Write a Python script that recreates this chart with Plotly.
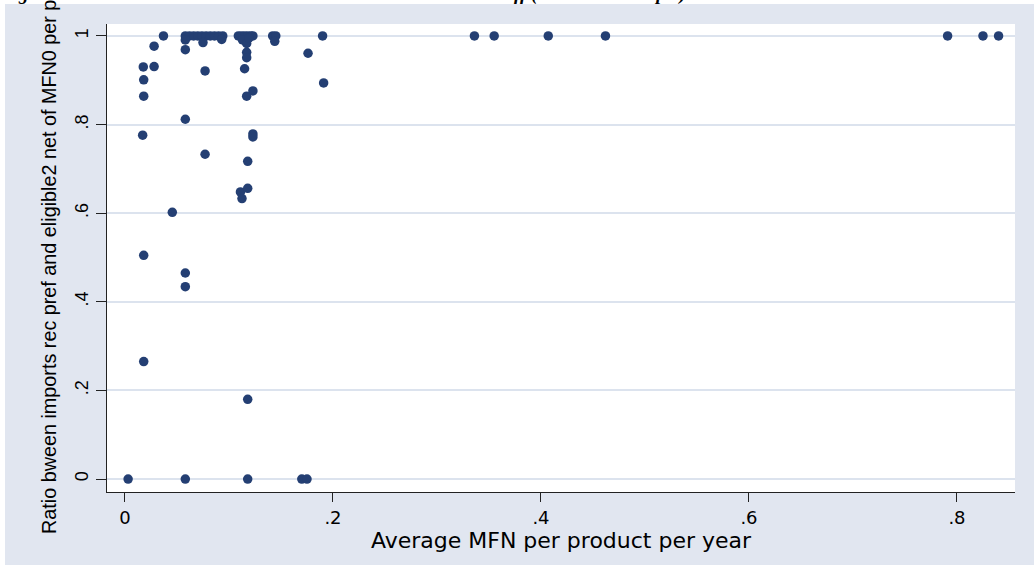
import plotly.graph_objects as go

# Average MFN per product per year (x) and ratio (y)
top_x = [0.037, 0.058, 0.062, 0.066, 0.070, 0.074, 0.078, 0.082, 0.086, 0.090, 0.094,
         0.109, 0.112, 0.115, 0.118, 0.121, 0.123, 0.142, 0.145, 0.190,
         0.336, 0.355, 0.407, 0.462, 0.791, 0.825, 0.840]
top_y = [1.0] * len(top_x)

near_top_x = [0.058, 0.075, 0.093, 0.113, 0.117, 0.119, 0.144]
near_top_y = [0.991, 0.985, 0.992, 0.991, 0.983, 0.995, 0.988]

other_x = [0.028, 0.0176, 0.028, 0.018, 0.018, 0.017, 0.018, 0.018, 0.0455,
           0.058, 0.058, 0.058, 0.058, 0.077, 0.077, 0.115, 0.117, 0.117,
           0.123, 0.117, 0.123, 0.123, 0.118, 0.111, 0.118, 0.1125, 0.118,
           0.176, 0.191]
other_y = [0.977, 0.930, 0.931, 0.901, 0.864, 0.776, 0.505, 0.265, 0.602,
           0.969, 0.812, 0.465, 0.434, 0.921, 0.733, 0.926, 0.963, 0.951,
           0.876, 0.864, 0.779, 0.772, 0.717, 0.648, 0.656, 0.633, 0.180,
           0.961, 0.894]

zero_x = [0.003, 0.058, 0.118, 0.170, 0.175]
zero_y = [0.0, 0.0, 0.0, 0.0, 0.0]

mfn = top_x + near_top_x + other_x + zero_x
ratio = top_y + near_top_y + other_y + zero_y

x_ticks = [0, 0.2, 0.4, 0.6, 0.8]
x_ticktext = ["0", ".2", ".4", ".6", ".8"]
y_ticks = [0, 0.2, 0.4, 0.6, 0.8, 1.0]
y_ticktext = ["0", ".2", ".4", ".6", ".8", "1"]

x_title = "Average MFN per product per year"
y_title = "Ratio bween imports rec pref and eligible2 net of MFN0 per p"
fig_title = "Figure 5: Relation between the utilization rates and the MFN tariff (all lines in sample)"

MARKER = "#243F73"
BG = "#E1E6F0"
GRID = "#DCE3EE"
AXIS = "#222222"
SANS = "Liberation Sans, Arial, sans-serif"

fig = go.Figure(go.Scatter(
    x=mfn, y=ratio, mode="markers",
    marker=dict(color=MARKER, size=9.5, line=dict(width=0)),
    hoverinfo="x+y",
))

W, H = 1034, 565
ML, MR, MT, MB = 107, 19, 24, 73
pw = W - ML - MR
ph = H - MT - MB


def px_x(px):
    return (px - ML) / pw


def px_y(py):
    return (H - MB - py) / ph


fig.update_layout(
    width=W, height=H,
    margin=dict(l=ML, r=MR, t=MT, b=MB),
    paper_bgcolor=BG, plot_bgcolor="white",
    showlegend=False,
    xaxis=dict(
        range=[-0.0173, 0.8558], tickmode="array", tickvals=x_ticks, ticktext=x_ticktext,
        ticks="outside", ticklen=9, tickwidth=1.3, tickcolor=AXIS,
        showline=True, linecolor=AXIS, linewidth=1.3, showgrid=False, zeroline=False,
        tickfont=dict(family="DejaVu Sans", size=18, color="black"),
        title=dict(text=x_title, font=dict(family="DejaVu Sans", size=22, color="black"), standoff=3),
    ),
    yaxis=dict(
        range=[-0.0293, 1.027], tickmode="array", tickvals=y_ticks, ticktext=y_ticktext,
        tickangle=-90, ticks="outside", ticklen=10, tickwidth=1.3, tickcolor=AXIS,
        ticklabelstandoff=1,
        showline=True, linecolor=AXIS, linewidth=1.3,
        showgrid=True, gridcolor=GRID, gridwidth=2, zeroline=False,
        tickfont=dict(family=SANS, size=18, color="black"),
    ),
    shapes=[
        dict(type="rect", xref="paper", yref="paper", x0=-0.3, x1=px_x(5), y0=-0.3, y1=1.3,
             fillcolor="white", line=dict(width=0), layer="below"),
        dict(type="rect", xref="paper", yref="paper", x0=-0.3, x1=1.3, y0=px_y(4), y1=1.3,
             fillcolor="white", line=dict(width=0), layer="below"),
    ],
    annotations=[
        dict(text=y_title, textangle=-90, xref="paper", yref="paper",
             x=px_x(49), y=px_y(536), xanchor="center", yanchor="bottom", showarrow=False,
             font=dict(family=SANS, size=19.8, color="black")),
        dict(text=fig_title, xref="paper", yref="paper", x=px_x(-2), y=px_y(7),
             xanchor="left", yanchor="bottom", showarrow=False,
             font=dict(family="Liberation Serif, Times New Roman, serif", size=19,
                       color="black", weight="bold", style="italic")),
    ],
)

fig.write_html("out.html", config={"displayModeBar": False},
               post_script="document.body.style.margin='0';")
